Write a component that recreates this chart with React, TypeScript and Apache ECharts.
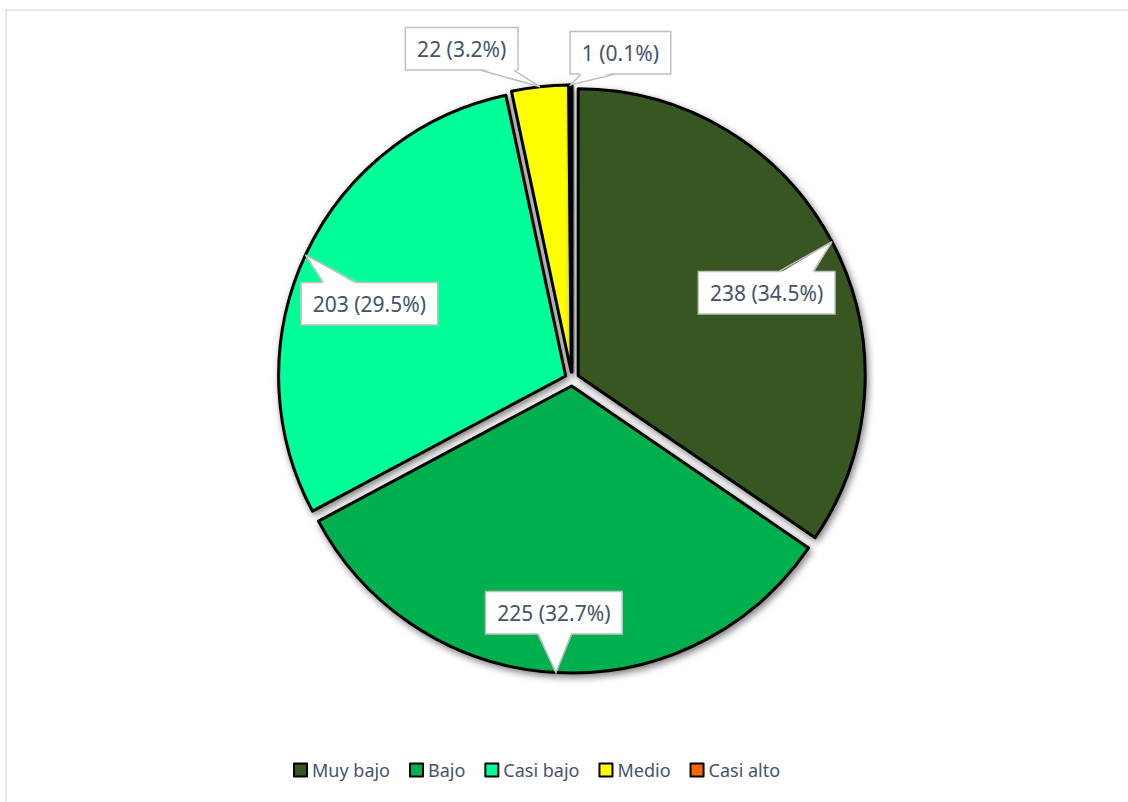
import React, { useEffect, useRef } from 'react';
import * as echarts from 'echarts';

const categories = ['Muy bajo', 'Bajo', 'Casi bajo', 'Medio', 'Casi alto'];
const values = [238, 225, 203, 22, 1];
const colors = ['#375623', '#00B050', '#00FF99', '#FFFF00', '#FF6600'];
// callout placement (styling): angular shift from slice middle (deg) and distance as radius fraction
const labelAngleShift = [3.9, 1.3, -4.6, -12.2, 8.7];
const labelRadiusFactor = [0.742, 0.817, 0.753, 1.213, 1.149];

const CX = 572;
const CY = 379;
const R = 287;
const OFFSET = 7;
const FONT_SIZE = 21;
const LINE_H = 23;
const PAD_V = 9;
const PAD_H = 11;

export default function App() {
  const ref = useRef<HTMLDivElement>(null);
  useEffect(() => {
    if (!ref.current) return;
    const chart = echarts.init(ref.current, undefined, { renderer: 'svg' });
    const total = values.reduce((a, b) => a + b, 0);
    const toXY = (deg: number, r: number) => {
      const a = (deg * Math.PI) / 180;
      return [CX + r * Math.sin(a), CY - r * Math.cos(a)];
    };
    const ctx = document.createElement('canvas').getContext('2d');
    if (ctx) ctx.font = `${FONT_SIZE}px "Noto Sans"`;
    const pct = (v: number) => ((v / total) * 100).toFixed(1);
    const geometry = values.map((v, i) => {
      let start = 0;
      for (let k = 0; k < i; k++) start += values[k];
      const mid = ((start + v / 2) / total) * 360;
      const tip = toXY(mid, R + OFFSET);
      const [lx, ly] = toXY(mid + labelAngleShift[i], R * labelRadiusFactor[i]);
      const text = `${v} (${pct(v)}%)`;
      const tw = ctx ? ctx.measureText(text).width : text.length * 10.5;
      const w = tw + PAD_H * 2 + 1.5;
      const h = LINE_H + PAD_V * 2 + 1.5;
      const left = lx - w / 2;
      const right = lx + w / 2;
      const above = tip[1] < ly;
      const edgeY = above ? ly - h / 2 : ly + h / 2;
      const inner = above ? edgeY + 2 : edgeY - 2;
      let bx = lx + (tip[0] - lx) * 0.45;
      bx = Math.max(left + 17, Math.min(right - 17, bx));
      return { lx, ly, tip, bx, edgeY, inner };
    });

    chart.setOption({
      animation: false,
      backgroundColor: '#ffffff',
      graphic: [
        {
          type: 'rect',
          shape: { x: 6, y: 10, width: 1140, height: 800 },
          style: { fill: 'none', stroke: '#dcdfe5', lineWidth: 1.5 },
          silent: true,
        },
      ],
      legend: {
        data: categories,
        left: 293,
        top: 760,
        padding: 0,
        itemWidth: 13,
        itemHeight: 13,
        itemGap: 19,
        icon: 'rect',
        itemStyle: { borderColor: '#000', borderWidth: 2, shadowBlur: 0, shadowColor: 'transparent' },
        textStyle: { fontFamily: 'Noto Sans', fontSize: 18, color: '#44546A', lineHeight: 20 },
      },
      series: [
        {
          type: 'pie',
          center: [CX, CY],
          radius: R,
          startAngle: 90,
          clockwise: true,
          selectedMode: 'multiple',
          selectedOffset: OFFSET,
          avoidLabelOverlap: false,
          emphasis: { disabled: true },
          itemStyle: {
            borderColor: '#000',
            borderWidth: 3,
            shadowBlur: 7,
            shadowColor: 'rgba(0,0,0,0.5)',
            shadowOffsetX: 2,
            shadowOffsetY: 3,
          },
          select: {
            itemStyle: { borderColor: '#000', borderWidth: 3 },
          },
          label: { show: false },
          labelLine: { show: false },
          data: categories.map((name, i) => ({
            name,
            value: values[i],
            selected: true,
            itemStyle: { color: colors[i] },
          })),
        },
        {
          type: 'pie',
          z: 5,
          silent: true,
          center: [CX, CY],
          radius: R,
          startAngle: 90,
          clockwise: true,
          selectedMode: false,
          avoidLabelOverlap: false,
          percentPrecision: 1,
          emphasis: { disabled: true },
          itemStyle: { color: 'rgba(0,0,0,0)', borderWidth: 0 },
          label: {
            show: true,
            position: 'outside',
            formatter: '{c} ({d}%)',
            fontFamily: 'Noto Sans',
            fontSize: FONT_SIZE,
            lineHeight: LINE_H,
            color: '#44546A',
            backgroundColor: '#ffffff',
            borderColor: '#bfbfbf',
            borderWidth: 1.5,
            padding: [PAD_V, PAD_H, PAD_V, PAD_H],
          },
          labelLine: { show: false },
          labelLayout: (params: any) => {
            const g = geometry[params.dataIndex];
            return { x: g.lx, y: g.ly, align: 'center', verticalAlign: 'middle' };
          },
          data: categories.map((name, i) => ({
            name,
            value: values[i],
          })),
        },
        {
          type: 'custom',
          coordinateSystem: 'none',
          z: 6,
          silent: true,
          data: values.map((v, i) => [i, v]),
          renderItem: (params: any) => {
            const g = geometry[params.dataIndex];
            const a = [g.bx - 17, g.edgeY];
            const b = [g.bx + 17, g.edgeY];
            return {
              type: 'group',
              children: [
                {
                  type: 'polygon',
                  shape: { points: [[g.bx - 17, g.inner], g.tip, [g.bx + 17, g.inner]] },
                  style: { fill: '#ffffff', stroke: 'none' },
                },
                {
                  type: 'polyline',
                  shape: { points: [a, g.tip, b] },
                  style: { fill: 'none', stroke: '#bfbfbf', lineWidth: 1.5 },
                },
              ],
            };
          },
        },
      ],
    });
    return () => chart.dispose();
  }, []);
  return (
    <div
      ref={ref}
      style={{ position: 'absolute', left: 0, top: 0, width: 1128, height: 802 }}
    />
  );
}
